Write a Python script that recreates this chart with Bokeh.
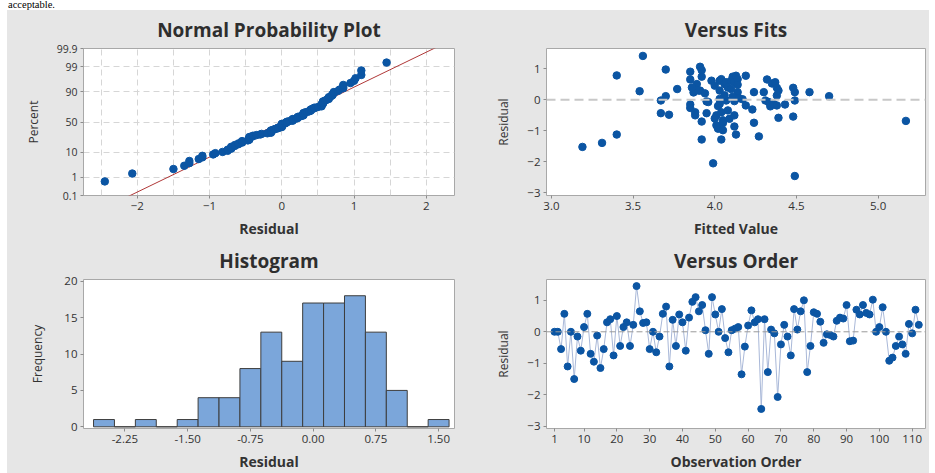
from statistics import NormalDist
import numpy as np
from bokeh.plotting import figure
from bokeh.layouts import gridplot, column, row
from bokeh.models import FixedTicker, Span, Range1d, NumeralTickFormatter, Div, Spacer
from bokeh.embed import file_html
from bokeh.resources import INLINE

# ---------------- data ----------------
residuals = [0, 0, -0.55, 0.57, -1.1, 0, -1.5, -0.15, -0.6, 0.15,
             0.57, -0.7, -0.95, -0.12, -1.15, -0.55, 0.3, 0.4, -0.75, 0.5,
             -0.45, 0.15, 0.3, -0.45, 0.22, 1.45, 0.65, 0.28, 0.3, -0.55,
             0.0, -0.65, -0.15, 0.57, 0.8, -1.1, 0.38, -0.45, 0.55, 0.3,
             -0.6, 0.45, 0.95, 1.1, 0.65, 0.85, 0.05, -0.7, 1.1, 0.55,
             0.0, 0.72, -0.2, -0.65, 0.05, 0.1, 0.15, -1.35, -0.47, 0.2,
             0.68, 0.3, 0.4, -2.45, 0.4, -1.28, 0.07, -0.05, -2.07, -0.4,
             0.22, -0.15, -0.75, 0.72, 0.07, 0.65, 1.0, -1.28, -0.45, 0.62,
             0.57, 0.32, -0.35, -0.08, -0.1, -0.15, 0.35, 0.45, 0.42, 0.85,
             -0.3, -0.28, 0.7, 0.55, 0.85, 0.6, 0.55, 1.02, 0.0, 0.15,
             0.78, 0.0, -0.92, -0.82, -0.45, -0.15, -0.4, -0.7, 0.25, -0.05,
             0.7, 0.22]

fitted_values = [3.19, 3.31, 3.40, 3.40, 3.54, 3.56, 3.70, 3.67, 3.70, 3.67,
                 3.72, 3.77, 3.85, 3.85, 3.85, 3.85, 3.88, 3.88, 3.87, 3.89,
                 3.91, 3.92, 3.91, 3.92, 3.92, 3.92, 3.94, 3.95, 3.96, 3.95,
                 3.98, 4.00, 3.99, 4.01, 4.02, 4.01, 4.03, 4.04, 4.03, 4.03,
                 4.03, 4.04, 4.04, 4.05, 4.05, 4.06, 4.07, 4.07, 4.08, 4.09,
                 4.10, 4.11, 4.12, 4.12, 4.12, 4.12, 4.13, 4.14, 4.14, 4.14,
                 4.13, 4.17, 4.19, 4.19, 4.23, 4.24, 4.24, 4.27, 4.30, 4.31,
                 4.32, 4.33, 4.34, 4.35, 4.36, 4.37, 4.38, 4.38, 4.38, 4.39,
                 4.39, 4.43, 4.48, 4.49, 4.49, 4.48, 4.49, 4.58, 4.70, 5.17,
                 4.06, 4.08, 4.02, 4.05, 4.10, 3.90, 4.00, 4.11, 3.86, 4.15]
fitted_residuals = [-1.52, -1.39, -1.12, 0.79, 0.28, 1.42, 0.98, -0.02, 0.12, -0.43,
                    -0.48, 0.35, 0.91, 0.66, -0.15, -0.26, -0.40, -0.50, 0.24, 0.51,
                    1.07, 0.96, 0.30, 0.75, -0.70, -1.28, 0.21, -0.05, -0.07, -0.43,
                    0.62, 0.46, -2.05, -0.50, -0.93, -0.82, 0.62, 0.67, 0.30, 0.03,
                    -0.13, -1.28, -0.40, -0.66, -0.98, 0.51, 0.57, -0.02, -0.34, -0.61,
                    0.62, 0.75, 0.57, -0.04, -0.86, -0.50, 0.78, 0.67, 0.49, 0.25,
                    -1.12, 0.02, 0.78, -0.18, -0.31, 0.25, -0.74, -1.18, 0.25, -0.02,
                    0.66, -0.07, -0.21, 0.53, -0.13, 0.57, 0.39, 0.14, -0.18, 0.30,
                    -0.58, -0.15, 0.39, 0.25, -0.02, -0.54, -2.46, 0.25, 0.12, -0.68,
                    0.15, 0.40, -0.20, -0.75, 0.35, 0.30, -0.60, 0.10, 0.40, 0.05]

hist_centers = [-2.5, -2.25, -2.0, -1.75, -1.5, -1.25, -1.0, -0.75, -0.5, -0.25,
                0.0, 0.25, 0.5, 0.75, 1.0, 1.25, 1.5]
hist_counts = [1, 0, 1, 0, 1, 4, 4, 8, 13, 9, 17, 17, 18, 13, 5, 0, 1]
hist_ticks = [-2.25, -1.5, -0.75, 0.0, 0.75, 1.5]

percent_ticks = [0.1, 1, 10, 50, 90, 99, 99.9]
percent_labels = ["0.1", "1", "10", "50", "90", "99", "99.9"]
percent_grid = [1, 10, 50, 90, 99]
normal_x_ticks = [-2, -1, 0, 1, 2]
normal_x_grid = [-2.5, -2, -1.5, -1, -0.5, 0, 0.5, 1, 1.5, 2]
fits_x_ticks = [3.0, 3.5, 4.0, 4.5, 5.0]
resid_y_ticks = [-3, -2, -1, 0, 1]
order_ticks = [1, 10, 20, 30, 40, 50, 60, 70, 80, 90, 100, 110]

# ---------------- styling ----------------
BG = "#e6e6e6"
BLUE = "#0b55a3"
FONT = "Open Sans"


def style(p):
    p.background_fill_color = "white"
    p.border_fill_color = BG
    p.outline_line_color = "#a8a8a8"
    p.title.align = "center"
    p.title.vertical_align = "top"
    p.title.text_font = FONT
    p.title.text_font_size = "19px"
    p.title.text_font_style = "bold"
    p.title.text_color = "#2e2e2e"
    p.title.standoff = 7
    for ax in p.axis:
        ax.axis_line_color = None
        ax.major_tick_line_color = "#8c8c8c"
        ax.major_tick_in = 0
        ax.major_tick_out = 3
        ax.minor_tick_line_color = None
        ax.major_label_text_font = FONT
        ax.major_label_text_font_size = "11.5px"
        ax.major_label_text_color = "#333333"
        ax.major_label_standoff = 3
        ax.axis_label_text_font = FONT
        ax.axis_label_text_color = "#333333"
    p.xaxis.axis_label_text_font_style = "bold"
    p.xaxis.axis_label_text_font_size = "14px"
    p.yaxis.axis_label_text_font_style = "normal"
    p.yaxis.axis_label_text_font_size = "12px"
    p.xaxis.axis_label_standoff = 6
    p.yaxis.axis_label_standoff = 12
    p.xgrid.grid_line_color = None
    p.ygrid.grid_line_color = None


W = 461
H_TOP = 231
H_BOT = 232

# ---------------- Normal probability plot ----------------
nd = NormalDist()
n = len(residuals)
sorted_res = sorted(residuals)
z_pts = [nd.inv_cdf((i + 1 - 0.3) / (n + 0.4)) for i in range(n)]
mu = float(np.mean(residuals))
sd = float(np.std(residuals, ddof=1))
z_line = [-3.4, 3.4]
x_line = [mu + sd * z for z in z_line]
z_ticks = [round(nd.inv_cdf(pc / 100.0), 6) for pc in percent_ticks]
z_grid = [round(nd.inv_cdf(pc / 100.0), 6) for pc in percent_grid]

p1 = figure(width=W, height=H_TOP, title="Normal Probability Plot",
            output_backend="svg", toolbar_location=None,
            x_range=Range1d(-2.745, 2.39), y_range=Range1d(z_ticks[0], z_ticks[-1]),
            min_border_left=76, min_border_right=13, min_border_top=38, min_border_bottom=46)
style(p1)
p1.xgrid.grid_line_color = "#d6d6d6"
p1.xgrid.grid_line_dash = "6 4"
p1.xgrid.ticker = FixedTicker(ticks=normal_x_grid)
p1.ygrid.grid_line_color = "#d6d6d6"
p1.ygrid.grid_line_dash = "6 4"
p1.ygrid.ticker = FixedTicker(ticks=z_grid)
p1.xaxis.ticker = FixedTicker(ticks=normal_x_ticks)
p1.yaxis.ticker = FixedTicker(ticks=z_ticks)
p1.yaxis.major_label_overrides = {z: lab for z, lab in zip(z_ticks, percent_labels)}
p1.yaxis.major_label_text_font_size = "10.5px"
p1.xaxis.axis_label = "Residual"
p1.yaxis.axis_label = "Percent"
p1.line(x_line, z_line, line_color="#b03838", line_width=1)
p1.scatter(sorted_res, z_pts, size=7.5, fill_color=BLUE, line_color=BLUE)

# ---------------- Versus fits ----------------
p2 = figure(width=W, height=H_TOP, title="Versus Fits",
            output_backend="svg", toolbar_location=None,
            x_range=Range1d(2.97, 5.29), y_range=Range1d(-3.09, 1.66),
            min_border_left=78, min_border_right=4, min_border_top=38, min_border_bottom=46)
style(p2)
p2.xaxis.ticker = FixedTicker(ticks=fits_x_ticks)
p2.xaxis.formatter = NumeralTickFormatter(format="0.0")
p2.yaxis.ticker = FixedTicker(ticks=resid_y_ticks)
p2.xaxis.axis_label = "Fitted Value"
p2.yaxis.axis_label = "Residual"
p2.add_layout(Span(location=0, dimension="width", line_color="#c8c8c8",
                   line_width=2, line_dash="9 5"))
p2.scatter(fitted_values, fitted_residuals, size=7.5, fill_color=BLUE, line_color=BLUE)

# ---------------- Histogram ----------------
p3 = figure(width=W, height=H_BOT, title="Histogram",
            output_backend="svg", toolbar_location=None,
            x_range=Range1d(-2.745, 1.69), y_range=Range1d(-0.23, 20.23),
            min_border_left=73, min_border_right=14, min_border_top=38, min_border_bottom=42)
style(p3)
p3.xaxis.ticker = FixedTicker(ticks=hist_ticks)
p3.xaxis.formatter = NumeralTickFormatter(format="0.00")
p3.yaxis.ticker = FixedTicker(ticks=[0, 5, 10, 15, 20])
p3.xaxis.axis_label = "Residual"
p3.yaxis.axis_label = "Frequency"
p3.yaxis.axis_label_standoff = 15
p3.vbar(x=hist_centers, top=hist_counts, bottom=0, width=0.25,
        fill_color="#7ba6da", line_color="#3d3d3d", line_width=1)

# ---------------- Versus order ----------------
obs = list(range(1, n + 1))
p4 = figure(width=W, height=H_BOT, title="Versus Order",
            output_backend="svg", toolbar_location=None,
            x_range=Range1d(-1.44, 114.05), y_range=Range1d(-3.07, 1.66),
            min_border_left=78, min_border_right=4, min_border_top=37, min_border_bottom=45)
style(p4)
p4.xaxis.ticker = FixedTicker(ticks=order_ticks)
p4.yaxis.ticker = FixedTicker(ticks=resid_y_ticks)
p4.xaxis.axis_label = "Observation Order"
p4.yaxis.axis_label = "Residual"
p4.add_layout(Span(location=0, dimension="width", line_color="#9a9a9a",
                   line_width=1, line_dash="6 3"))
p4.line(obs, residuals, line_color="#a9b8d8", line_width=1)
p4.scatter(obs, residuals, size=7, fill_color=BLUE, line_color=BLUE)

grid = gridplot([[p1, p2], [p3, p4]], toolbar_location=None)
grid.spacing = 0
grid.styles = {"background-color": BG}

header = Div(text="acceptable.", width=922, height=10, margin=0,
             styles={"font-family": "Liberation Serif", "font-size": "10.5px",
                     "line-height": "10px", "color": "#000", "padding-left": "8px"})

layout = column(header, row(Spacer(width=7, height=463, margin=0), grid, spacing=0),
                spacing=0)

open("out.html", "w").write(file_html(layout, INLINE))
